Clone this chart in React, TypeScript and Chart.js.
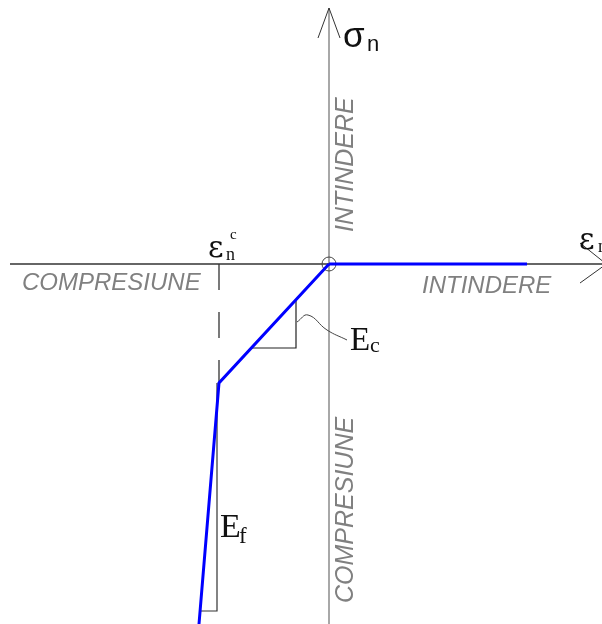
import { useEffect, useRef } from "react";
import { Chart, registerables } from "chart.js";

Chart.register(...registerables);

// Axis ranges (origin of the σ–ε diagram at 0,0)
const X_RANGE = [-329, 273];
const Y_RANGE = [-360, 264];

// Constitutive law: tension branch (zero stress) and compression branch (Ec, then Ef)
const tensionBranch = [
  { x: 198, y: 0 },
  { x: 0, y: 0 },
];
const compressionBranch = [
  { x: 0, y: 0 },
  { x: -110, y: -119 },
  { x: -130, y: -360 },
];

// Axes and arrowheads
const strainAxis = [
  { x: -319, y: 0 },
  { x: 273, y: 0 },
];
const strainArrowUpper = [
  { x: 251, y: 21 },
  { x: 276, y: 1 },
];
const strainArrowLower = [
  { x: 251, y: -19 },
  { x: 276, y: -1 },
];
const stressAxis = [
  { x: 0, y: -360 },
  { x: 0, y: 256 },
];
const stressArrow = [
  { x: -11, y: 226 },
  { x: 0, y: 256 },
  { x: 11, y: 226 },
];

// Strain limit εn^c marker
const strainLimitLine = [
  { x: -110, y: 0 },
  { x: -110, y: -119 },
];

// Slope triangles and leader
const slopeEc = [
  { x: -33, y: -35 },
  { x: -33, y: -84 },
  { x: -78, y: -84 },
];
const slopeEf = [
  { x: -112, y: -119 },
  { x: -112, y: -347 },
  { x: -128, y: -347 },
];
const leaderEc = [
  { x: -32, y: -58 },
  { x: -21, y: -51 },
  { x: -2, y: -66 },
  { x: 18, y: -76 },
];
const origin = [{ x: 0, y: 0 }];

type Piece = { text: string; font: string; dx: number; dy: number };
type Label = { x: number; y: number; pieces: Piece[]; color: string; rotate?: boolean };

const SERIF = '"Liberation Serif", "DejaVu Serif", serif';
const GREEK = '"DejaVu Serif", serif';
const SANS = '"Liberation Sans", Arial, sans-serif';

const labels: Label[] = [
  {
    x: 14, y: 217, color: "#111",
    pieces: [
      { text: "σ", font: `35px ${SANS}`, dx: 0, dy: 0 },
      { text: "n", font: `22px ${SANS}`, dx: 24, dy: 4 },
    ],
  },
  {
    x: -121, y: 7, color: "#111",
    pieces: [
      { text: "ε", font: `30px ${GREEK}`, dx: 0, dy: 0 },
      { text: "n", font: `18px ${SERIF}`, dx: 18, dy: 3 },
      { text: "c", font: `15px ${SERIF}`, dx: 22, dy: -18 },
    ],
  },
  {
    x: 250, y: 15, color: "#111",
    pieces: [
      { text: "ε", font: `30px ${GREEK}`, dx: 0, dy: 0 },
      { text: "n", font: `18px ${SERIF}`, dx: 19, dy: 3 },
    ],
  },
  {
    x: 21, y: -86, color: "#111",
    pieces: [
      { text: "E", font: `33px ${SERIF}`, dx: 0, dy: 0 },
      { text: "c", font: `22px ${SERIF}`, dx: 20, dy: 2 },
    ],
  },
  {
    x: -109, y: -273, color: "#111",
    pieces: [
      { text: "E", font: `34px ${SERIF}`, dx: 0, dy: 0 },
      { text: "f", font: `23px ${SERIF}`, dx: 19, dy: 6 },
    ],
  },
  {
    x: -307, y: -26, color: "#808080",
    pieces: [{ text: "COMPRESIUNE", font: `italic 24px ${SANS}`, dx: 0, dy: 0 }],
  },
  {
    x: 93, y: -29, color: "#808080",
    pieces: [{ text: "INTINDERE", font: `italic 24px ${SANS}`, dx: 0, dy: 0 }],
  },
  {
    x: 24, y: 32, color: "#808080", rotate: true,
    pieces: [{ text: "INTINDERE", font: `italic 25px ${SANS}`, dx: 0, dy: 0 }],
  },
  {
    x: 24, y: -339, color: "#808080", rotate: true,
    pieces: [{ text: "COMPRESIUNE", font: `italic 25px ${SANS}`, dx: 0, dy: 0 }],
  },
];

const labelPlugin = {
  id: "diagramLabels",
  afterDatasetsDraw(chart: any) {
    const { ctx, scales } = chart;
    ctx.save();
    ctx.textBaseline = "alphabetic";
    ctx.textAlign = "left";
    for (const l of labels) {
      const px = scales.x.getPixelForValue(l.x);
      const py = scales.y.getPixelForValue(l.y);
      ctx.save();
      ctx.translate(px, py);
      if (l.rotate) ctx.rotate(-Math.PI / 2);
      ctx.fillStyle = l.color;
      for (const p of l.pieces) {
        ctx.font = p.font;
        ctx.fillText(p.text, p.dx, p.dy);
      }
      ctx.restore();
    }
    ctx.restore();
  },
};

function line(data: any[], color: string, width: number, extra: any = {}) {
  return {
    data,
    showLine: true,
    borderColor: color,
    borderWidth: width,
    pointRadius: 0,
    fill: false,
    tension: 0,
    order: 2,
    ...extra,
  };
}

export default function App() {
  const ref = useRef<HTMLCanvasElement>(null);

  useEffect(() => {
    if (!ref.current) return;
    const chart = new Chart(ref.current, {
      type: "scatter",
      data: {
        datasets: [
          line(tensionBranch, "#0000ff", 3, { order: 0 }),
          line(compressionBranch, "#0000ff", 3, { order: 0, borderJoinStyle: "miter" }),
          {
            data: origin,
            pointRadius: 7,
            pointBorderColor: "#444",
            pointBackgroundColor: "rgba(0,0,0,0)",
            pointBorderWidth: 1,
            showLine: false,
            order: 1,
          },
          line(strainAxis, "#333", 1.3),
          line(strainArrowUpper, "#333", 1),
          line(strainArrowLower, "#333", 1),
          line(stressAxis, "#a8a8a8", 2, { order: 3 }),
          line(stressArrow, "#333", 1),
          line(strainLimitLine, "#222", 1.2, { borderDash: [26, 22] }),
          line(slopeEc, "#222", 1.2),
          line(slopeEf, "#333", 1.2),
          line(leaderEc, "#444", 1, { tension: 0.45 }),
        ],
      },
      options: {
        responsive: false,
        animation: false,
        events: [],
        layout: { padding: 0, autoPadding: false },
        plugins: { legend: { display: false }, tooltip: { enabled: false } },
        scales: {
          x: { type: "linear", min: X_RANGE[0], max: X_RANGE[1], display: false },
          y: { type: "linear", min: Y_RANGE[0], max: Y_RANGE[1], display: false },
        },
      },
      plugins: [labelPlugin],
    });
    return () => chart.destroy();
  }, []);

  return (
    <div style={{ position: "fixed", left: 0, top: 0, width: 602, height: 624, background: "#fff" }}>
      <canvas ref={ref} width={602} height={624} style={{ display: "block" }} />
    </div>
  );
}
